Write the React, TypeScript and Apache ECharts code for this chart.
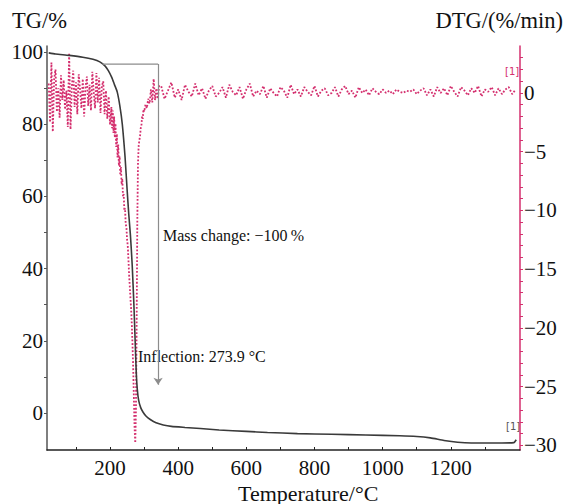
import React, { useEffect, useRef } from "react";
import * as echarts from "echarts";

// TG curve: [temperature °C, mass %]
const tgCurve: [number, number][] = [
  [20, 99.8], [40, 99.5], [80, 99.1], [120, 98.6], [150, 98.0], [170, 97.3],
  [185, 96.2], [195, 94.9], [205, 93.0], [213, 91.0], [221, 89.0], [229, 85.0],
  [236, 80.0], [244, 71.0], [250, 62.0], [255, 55.0], [260, 49.0], [265, 41.0],
  [270, 30.0], [274, 19.0], [277, 11.0], [280, 6.5], [284, 3.5], [290, 1.5],
  [297, 0.2], [306, -0.9], [318, -1.8], [335, -2.7], [356, -3.3], [380, -3.7],
  [420, -4.0], [465, -4.3], [520, -4.7], [600, -5.1], [662, -5.4], [750, -5.7],
  [850, -5.9], [950, -6.1], [1050, -6.3], [1100, -6.5], [1140, -6.9], [1180, -7.6],
  [1220, -8.1], [1260, -8.3], [1300, -8.3], [1350, -8.3], [1385, -8.2], [1392, -7.4],
];

// DTG, early noisy part: 20..200 °C every 4 °C
const dtgEarlyStart = 20;
const dtgEarlyStep = 4;
const dtgEarly: number[] = [
  0.8, -2.5, 2.6, -3.3, 1.2, 2.0, -1.6, 0.4, -2.1, 1.5, -0.6, 1.1, -1.4, 0.2, -2.9, 3.4,
  -3.1, 0.6, 1.9, -1.2, 0.9, -1.8, 1.6, 0.3, -1.3, 1.2, -2.0, 0.5, 1.4, -1.1, 0.7, -1.5,
  1.8, 0.1, -1.3, 1.7, -0.8, 1.3, -1.7, 0.6, 1.0, -1.8, 0.2, -2.2, -0.3, -2.7,
];

// DTG, decomposition peak: [temperature, %/min]
const dtgPeak: [number, number][] = [
  [204, -1.2], [206, -3.0], [208, -1.5], [210, -3.4], [212, -2.0], [214, -3.8], [216, -2.6],
  [218, -4.6], [220, -3.5], [222, -5.5], [224, -4.4], [226, -6.2], [228, -5.4], [230, -7.0],
  [232, -6.3], [234, -7.8], [236, -7.3], [238, -8.8], [240, -8.6], [242, -10.0], [244, -9.8],
  [246, -11.2], [248, -11.4], [250, -12.5], [252, -13.0], [254, -14.2], [256, -15.5],
  [258, -16.5], [260, -17.5], [262, -18.5], [264, -19.8], [266, -21.5], [268, -23.5],
  [270, -26.0], [272, -28.5], [274, -29.8], [276, -27.0], [278, -20.0], [280, -11.0],
  [282, -6.0], [284, -4.5], [286, -4.0], [288, -3.7], [290, -3.0], [292, -2.8], [294, -2.0],
  [296, -2.2], [298, -1.4], [300, -1.6], [304, -1.0], [308, -1.3], [312, -0.5], [316, -0.9],
  [320, 0.3], [324, -0.8], [328, 1.2], [332, -0.6], [336, 0.4], [340, -0.5], [344, 0.6],
];

// DTG, late baseline: 350..1390 °C every 10 °C
const dtgLateStart = 350;
const dtgLateStep = 10;
const dtgLate: number[] = [
  0.6, -0.5, 0.2, 0.9, -0.4, 0.3, -0.6, 0.7, 0.1, -0.3, 0.8, -0.2, 0.4, -0.5, 0.2, 0.6,
  -0.3, 0.0, 0.5, -0.4, 0.7, 0.1, -0.2, 0.5, -0.5, 0.3, 0.8, -0.3, 0.2, -0.1, 0.6, -0.4,
  0.4, 0.0, -0.3, 0.5, 0.2, -0.4, 0.7, -0.1, 0.3, -0.3, 0.5, 0.1, -0.2, 0.6, -0.3, 0.2,
  0.4, -0.2, 0.0, 0.5, -0.3, 0.3, 0.6, -0.1, 0.2, -0.4, 0.5, 0.0, 0.3, -0.2, 0.4, 0.1,
  -0.1, 0.3, 0.0, 0.2, -0.1, 0.3, 0.1, 0.0, 0.2, 0.1, 0.3, -0.1, 0.2, 0.4, -0.2, 0.3,
  -0.3, 0.5, 0.0, 0.4, -0.2, 0.6, 0.1, -0.3, 0.5, 0.2, -0.2, 0.4, 0.0, 0.6, -0.3, 0.3,
  0.1, 0.5, -0.2, 0.4, -0.1, 0.3, 0.5, -0.1, 0.3,
];

// Mass-change bracket: [temperature, mass %]
const massLevelStart: [number, number] = [177, 96.7];
const massLevelEnd: [number, number] = [341, 96.7];
const massArrowEnd: [number, number] = [341, 7.8];

const xTickValues = [100, 200, 300, 400, 500, 600, 700, 800, 900, 1000, 1100, 1200, 1300];
const xLabelValues = [200, 400, 600, 800, 1000, 1200];
const tgTickValues = [0, 10, 20, 30, 40, 50, 60, 70, 80, 90, 100];
const tgLabelValues = [0, 20, 40, 60, 80, 100];
const dtgTickValues = [-30, -29, -28, -27, -26, -25, -24, -23, -22, -21, -20, -19, -18, -17, -16, -15, -14, -13, -12, -11, -10, -9, -8, -7, -6, -5, -4, -3, -2, -1, 0, 1, 2, 3];
const dtgLabelValues = [-30, -25, -20, -15, -10, -5, 0];

const SERIF = "'Liberation Serif', 'Times New Roman', serif";
const PINK = "#d42f6e";

export default function App() {
  const ref = useRef<HTMLDivElement>(null);
  useEffect(() => {
    if (!ref.current) return;
    const chart = echarts.init(ref.current, undefined, { renderer: "svg" });

    const dtgData: [number, number][] = [
      ...dtgEarly.map((v, i) => [dtgEarlyStart + i * dtgEarlyStep, v] as [number, number]),
      ...dtgPeak,
      ...dtgLate.map((v, i) => [dtgLateStart + i * dtgLateStep, v] as [number, number]),
    ];

    const labelStyle = { fontFamily: SERIF, fontSize: 21, color: "#111" };

    chart.setOption({
      animation: false,
      backgroundColor: "#ffffff",
      textStyle: { fontFamily: SERIF },
      grid: { left: 47, right: 45, top: 46, bottom: 54, containLabel: false },
      xAxis: {
        type: "value",
        min: 15,
        max: 1403,
        axisLine: { show: true, onZero: false, lineStyle: { color: "#222", width: 1.5 } },
        axisTick: { show: true, inside: true, length: 3, customValues: xTickValues, lineStyle: { color: "#222" } },
        axisLabel: {
          ...labelStyle,
          customValues: xLabelValues,
          margin: 7,
          formatter: (v: number) => String(v),
        },
        splitLine: { show: false },
      },
      yAxis: [
        {
          type: "value",
          min: -10.25,
          max: 101.7,
          position: "left",
          axisLine: { show: true, onZero: false, lineStyle: { color: "#555", width: 1.5 } },
          axisTick: { show: true, length: 3, customValues: tgTickValues, lineStyle: { color: "#555" } },
          axisLabel: {
            ...labelStyle,
            customValues: tgLabelValues,
            margin: 4,
            formatter: (v: number) => String(v),
          },
          splitLine: { show: false },
        },
        {
          type: "value",
          min: -30.4,
          max: 4.0,
          position: "right",
          axisLine: { show: true, onZero: false, lineStyle: { color: PINK, width: 1.5 } },
          axisTick: { show: true, length: 3, customValues: dtgTickValues, lineStyle: { color: PINK } },
          axisLabel: {
            ...labelStyle,
            customValues: dtgLabelValues,
            margin: 4,
            formatter: (v: number) => String(v).replace("-", "\u2212"),
          },
          splitLine: { show: false },
        },
      ],
      series: [
        {
          name: "DTG",
          type: "line",
          yAxisIndex: 1,
          data: dtgData,
          showSymbol: false,
          lineStyle: { color: PINK, width: 1.8, type: "dotted" },
          z: 2,
        },
        {
          name: "TG",
          type: "line",
          yAxisIndex: 0,
          data: tgCurve,
          showSymbol: false,
          smooth: 0.2,
          lineStyle: { color: "#3a3a3a", width: 1.6 },
          z: 3,
        },
        {
          name: "Mass change",
          type: "line",
          yAxisIndex: 0,
          data: [massLevelStart, massLevelEnd],
          showSymbol: false,
          lineStyle: { color: "#8c8c8c", width: 1.2 },
          markLine: {
            silent: true,
            symbol: ["none", "arrow"],
            symbolSize: 7,
            label: { show: false },
            lineStyle: { color: "#8c8c8c", width: 1.2, type: "solid" },
            data: [[{ coord: massLevelEnd }, { coord: massArrowEnd }]],
          },
          z: 4,
        },
      ],
      graphic: [
        { type: "text", left: 12, top: 9, style: { text: "TG/%", font: `22.5px ${SERIF}`, fill: "#111" } },
        { type: "text", right: 2, top: 9, style: { text: "DTG/(%/min)", font: `22.5px ${SERIF}`, fill: "#111" } },
        { type: "text", left: 238, top: 482, style: { text: "Temperature/°C", font: `22px ${SERIF}`, fill: "#111" } },
        { type: "text", left: 163, top: 227, style: { text: "Mass change: \u2212100\u2009%", font: `16px ${SERIF}`, fill: "#111" } },
        { type: "text", left: 138, top: 348, style: { text: "Inflection: 273.9 °C", font: `16px ${SERIF}`, fill: "#111" } },
        { type: "text", left: 505, top: 66, style: { text: "[1]", font: "10px 'DejaVu Sans', sans-serif", fill: PINK } },
        { type: "text", left: 506, top: 421, style: { text: "[1]", font: "10px 'DejaVu Sans', sans-serif", fill: "#555" } },
      ],
    });

    return () => {
      chart.dispose();
    };
  }, []);

  return (
    <div
      ref={ref}
      style={{ position: "fixed", left: 0, top: 0, width: 565, height: 504, background: "#fff" }}
    />
  );
}
